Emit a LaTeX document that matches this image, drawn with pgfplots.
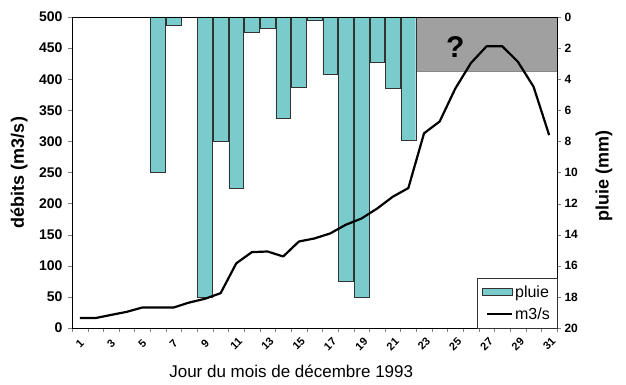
\documentclass[border=0pt]{standalone}
\usepackage{pgfplots}
\pgfplotsset{compat=1.18}
\usepackage{fontspec}
\setmainfont{Liberation Sans}
\definecolor{pluiec}{RGB}{122,204,204}
\definecolor{boxgray}{RGB}{160,160,160}
\begin{document}
\begin{tikzpicture}
\begin{axis}[
 scale only axis, width=485pt, height=311pt,
 xmin=0.5, xmax=31.5, ymin=0, ymax=20, y dir=reverse,
 axis y line*=right, axis x line=none,
 ytick={0,2,...,20},
 tick align=outside, major tick length=4pt,
 /pgf/number format/assume math mode=true,
 yticklabel style={font=\bfseries\fontsize{12}{12}\selectfont},
 ylabel={pluie (mm)},
 ylabel style={font=\bfseries\fontsize{18}{18}\selectfont, at={(axis description cs:1.097,0.49)}, anchor=center},
]
\addplot[fill=boxgray, draw=boxgray!85!black] coordinates {(22.5,0) (31.5,0) (31.5,3.5) (22.5,3.5)} -- cycle;
\addplot[ybar, bar width=0.94, fill=pluiec, draw=black!80] coordinates {
(6,10) (7,0.5) (9,18) (10,8) (11,11) (12,1) (13,0.7) (14,6.5) (15,4.5) (16,0.2)
(17,3.7) (18,17) (19,18) (20,2.9) (21,4.6) (22,7.9)};
\node[font=\bfseries\fontsize{30}{30}\selectfont] at (axis cs:25,1.9) {?};
\end{axis}
\begin{axis}[
 scale only axis, width=485pt, height=311pt,
 xmin=0.5, xmax=31.5, ymin=0, ymax=500,
 ytick={0,50,...,500}, ytick pos=left,
 xtick={1,3,...,31}, xtick pos=bottom,
 minor xtick={0.5,1.5,...,31.5},
 every major x tick/.append style={draw=none},
 tick align=outside, major tick length=4pt, minor tick length=4pt,
 /pgf/number format/assume math mode=true,
 yticklabel style={font=\bfseries\fontsize{14}{14}\selectfont, xshift=-2pt},
 xticklabel style={font=\bfseries\fontsize{11}{11}\selectfont, inner sep=0.3pt, yshift=-12pt, rotate=45, anchor=center},
 ylabel={débits (m3/s)},
 ylabel style={font=\bfseries\fontsize{18}{18}\selectfont, at={(axis description cs:-0.109,0.5)}, anchor=center},
 xlabel={Jour du mois de décembre 1993},
 xlabel style={font=\fontsize{17}{17}\selectfont, at={(axis description cs:0.452,-0.138)}, anchor=center},
 legend style={at={(rel axis cs:1,0)}, anchor=south east, draw=black!80, fill=white,
   font=\fontsize{16}{16}\selectfont, inner xsep=5pt, inner ysep=5pt, row sep=5pt},
 legend cell align=left,
]
\addlegendimage{legend image code/.code={\draw[fill=pluiec, draw=black!80] (0pt,-3.5pt) rectangle (30pt,3.5pt);}}
\addlegendentry{pluie}
\addplot[black, line width=2.2pt, line join=round,
 legend image code/.code={\draw[black, line width=2.2pt] (5pt,0pt) -- (30pt,0pt);}] coordinates {
(1,16) (2,16) (3,21) (4,26) (5,33) (6,33) (7,33) (8,41) (9,47) (10,56)
(11,104) (12,122) (13,123) (14,115) (15,139) (16,144) (17,152) (18,166) (19,176) (20,192)
(21,211) (22,225) (23,313) (24,332) (25,385) (26,426) (27,453) (28,453) (29,428) (30,388) (31,310)};
\addlegendentry{m3/s}
\coordinate (SW) at (rel axis cs:0,0);
\coordinate (NE) at (rel axis cs:1,1);
\end{axis}
\path ([shift={(-72pt,-57pt)}]SW) rectangle ([shift={(69pt,17pt)}]NE);
\end{tikzpicture}
\end{document}
